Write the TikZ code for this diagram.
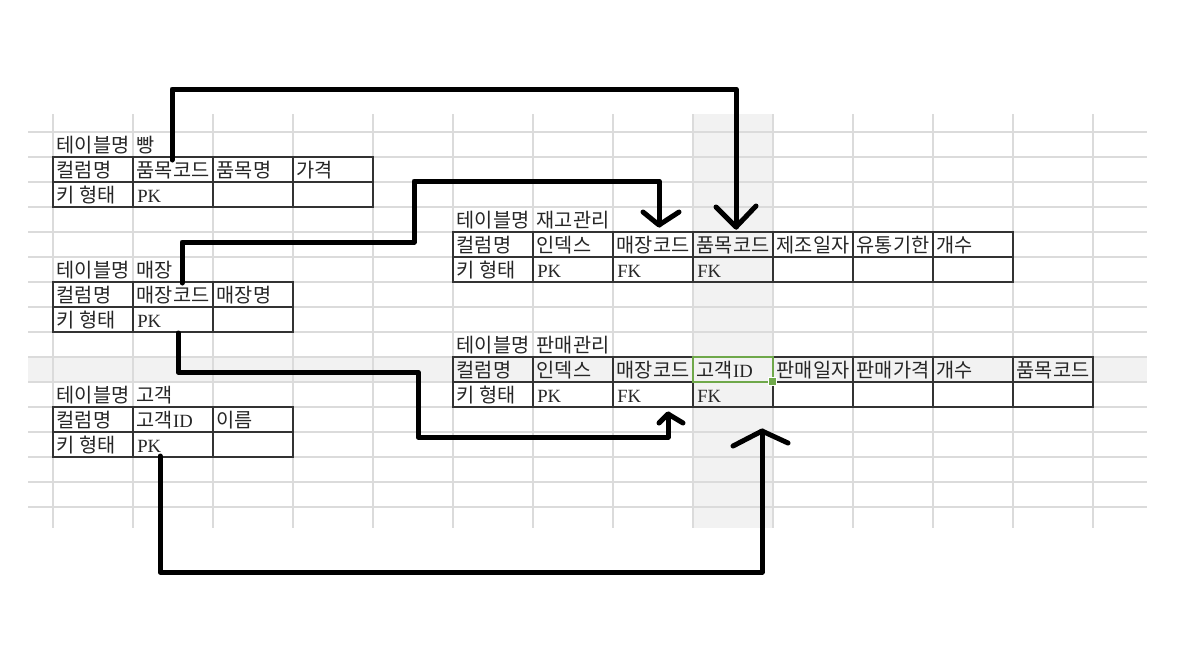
\documentclass[tikz,border=0pt]{standalone}
\usepackage{fontspec}
\setmainfont{Liberation Serif}
\newfontfamily\krfont{Noto Sans CJK KR}
\definecolor{selg}{HTML}{6FA84A}
\newcommand\mycell[4]{\draw[tbl] (#2,#3) rectangle ++(80,25); \node[txt] (#1) at (#2+3.5,#3+20.5) {#4};}
\newcommand\mylat[4]{\draw[tbl] (#2,#3) rectangle ++(80,25); \node[lat] (#1) at (#2+4,#3+20.5) {#4};}
\newcommand\myempty[2]{\draw[tbl] (#1,#2) rectangle ++(80,25);}
\begin{document}
\begin{tikzpicture}[x=0.75pt,y=-0.75pt,
  gridl/.style={draw=black!14, line width=0.8pt},
  tbl/.style={draw=black!80, line width=1pt},
  txt/.style={anchor=base west, inner sep=0pt, font=\krfont\fontsize{14.8}{17}\selectfont, text=black!85},
  lat/.style={anchor=base west, inner sep=0pt, font=\rmfamily\fontsize{14}{17}\selectfont, text=black!85},
  link/.style={line width=3.75pt, line cap=round, line join=round, draw=black},
]
\useasboundingbox[fill=white] (0,0) rectangle (1189,651);
% shading (selected column and row)
\fill[black!5] (693,114) rectangle (773,528);
\fill[black!5] (28,357) rectangle (1147,382);
% spreadsheet grid
\foreach \x in {53,133,...,1093} \draw[gridl] (\x,114) -- (\x,528);
\foreach \y in {132,157,...,507} \draw[gridl] (28,\y) -- (1147,\y);

% table: bread
\node[txt] (t1a) at (56.5,152.5) {테이블명};
\node[txt] (t1b) at (136.5,152.5) {빵};
\mycell{b11}{53}{157}{컬럼명}
\mycell{b12}{133}{157}{품목코드}
\mycell{b13}{213}{157}{품목명}
\mycell{b14}{293}{157}{가격}
\mycell{b21}{53}{182}{키 형태}
\mylat{b22}{133}{182}{PK}
\myempty{213}{182}
\myempty{293}{182}

% table: store
\node[txt] (t2a) at (56.5,277.5) {테이블명};
\node[txt] (t2b) at (136.5,277.5) {매장};
\mycell{s11}{53}{282}{컬럼명}
\mycell{s12}{133}{282}{매장코드}
\mycell{s13}{213}{282}{매장명}
\mycell{s21}{53}{307}{키 형태}
\mylat{s22}{133}{307}{PK}
\myempty{213}{307}

% table: customer
\node[txt] (t3a) at (56.5,402.5) {테이블명};
\node[txt] (t3b) at (136.5,402.5) {고객};
\mycell{c11}{53}{407}{컬럼명}
\mycell{c12}{133}{407}{고객{\rmfamily\fontsize{14}{17}\selectfont ID}}
\mycell{c13}{213}{407}{이름}
\mycell{c21}{53}{432}{키 형태}
\mylat{c22}{133}{432}{PK}
\myempty{213}{432}

% table: inventory
\node[txt] (t4a) at (456.5,227.5) {테이블명};
\node[txt] (t4b) at (536.5,227.5) {재고관리};
\mycell{i11}{453}{232}{컬럼명}
\mycell{i12}{533}{232}{인덱스}
\mycell{i13}{613}{232}{매장코드}
\mycell{i14}{693}{232}{품목코드}
\mycell{i15}{773}{232}{제조일자}
\mycell{i16}{853}{232}{유통기한}
\mycell{i17}{933}{232}{개수}
\mycell{i21}{453}{257}{키 형태}
\mylat{i22}{533}{257}{PK}
\mylat{i23}{613}{257}{FK}
\mylat{i24}{693}{257}{FK}
\myempty{773}{257}
\myempty{853}{257}
\myempty{933}{257}

% table: sales
\node[txt] (t5a) at (456.5,352.5) {테이블명};
\node[txt] (t5b) at (536.5,352.5) {판매관리};
\mycell{p11}{453}{357}{컬럼명}
\mycell{p12}{533}{357}{인덱스}
\mycell{p13}{613}{357}{매장코드}
\mycell{p14}{693}{357}{고객{\rmfamily\fontsize{14}{17}\selectfont ID}}
\mycell{p15}{773}{357}{판매일자}
\mycell{p16}{853}{357}{판매가격}
\mycell{p17}{933}{357}{개수}
\mycell{p18}{1013}{357}{품목코드}
\mycell{p21}{453}{382}{키 형태}
\mylat{p22}{533}{382}{PK}
\mylat{p23}{613}{382}{FK}
\mylat{p24}{693}{382}{FK}
\myempty{773}{382}
\myempty{853}{382}
\myempty{933}{382}
\myempty{1013}{382}

% selection frame
\draw[selg, line width=1.6pt] (693,357) rectangle (773,382);
\filldraw[fill=selg, draw=white, line width=0.6pt] (768.5,377.5) rectangle (776,385);

% connector coordinates
\coordinate (a1s) at (172,160);
\coordinate (a1t) at (736,227);
\coordinate (a2s) at (182,283);
\coordinate (a2t) at (659,225);
\coordinate (a3s) at (178,333);
\coordinate (a3t) at (668,414);
\coordinate (a4s) at (160,456);
\coordinate (a4t) at (762,431);

% connectors
\draw[link] (a1s) -- (172,89) -- (736,89) -- (a1t);
\draw[link] (716,207) -- (a1t) -- (756,206);

\draw[link] (a2s) -- (182,242) -- (414,242) -- (414,181) -- (659,181) -- (a2t);
\draw[link] (643,212) -- (a2t) -- (679,212);

\draw[link] (a3s) -- (178,372) -- (418,372) -- (418,437) -- (668,437) -- (a3t);
\draw[link] (659,423) -- (a3t) -- (683,423);

\draw[link] (a4s) -- (160,572) -- (762,572) -- (a4t);
\draw[link] (733,446) -- (a4t) -- (788,443);
\end{tikzpicture}
\end{document}
